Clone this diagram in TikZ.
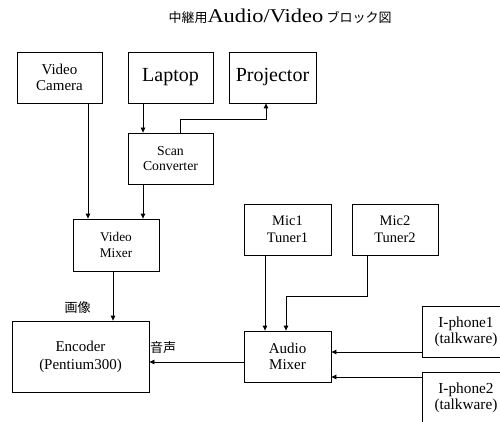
\documentclass[tikz,border=0pt]{standalone}
\usepackage{fontspec}
\usepackage{graphicx}
\setmainfont{Liberation Serif}
\newfontfamily\cjk{Noto Sans CJK JP}
\usetikzlibrary{arrows.meta}
\tikzset{
  blk/.style={draw, line width=0.8pt, align=center, inner sep=0pt},
  sig/.style={line width=0.8pt, -{Triangle[length=5pt,width=4.5pt]}},
  cjklbl/.style={font=\cjk\fontsize{13}{14}\selectfont, inner sep=0pt}
}
\begin{document}
\begin{tikzpicture}[x=1pt,y=-1pt]
  \useasboundingbox (0,0) rectangle (500,422);
  \clip (0,0) rectangle (500,422);
  % title
  \node[anchor=base, inner sep=0pt] (title) at (280,23) {\cjk\fontsize{13}{14}\selectfont 中継用\rmfamily\scalebox{1.15}[1]{\fontsize{19.5}{20}\selectfont Audio/Video} \cjk\fontsize{13}{14}\selectfont ブロック図};
  % video side
  \node[blk, minimum width=85, minimum height=51, font=\fontsize{15}{16.7}\selectfont] (cam) at (59.5,77.5) {Video\\Camera};
  \node[blk, minimum width=85, minimum height=51, font=\fontsize{20}{22}\selectfont] (lap) at (170.5,77.5) {Laptop};
  \node[blk, minimum width=87, minimum height=51, font=\fontsize{20}{22}\selectfont] (proj) at (272.5,77.5) {Projector};
  \node[blk, minimum width=85, minimum height=51, font=\fontsize{13.75}{14.5}\selectfont] (scan) at (170.5,158.5) {Scan\\Converter};
  \node[blk, minimum width=86, minimum height=52, font=\fontsize{13.3}{16}\selectfont] (vmix) at (116,245) {Video\\Mixer};
  \node[blk, minimum width=137, minimum height=71, font=\fontsize{15}{18}\selectfont] (enc) at (80.5,356.5) {Encoder\\(Pentium300)};
  % audio side
  \node[blk, minimum width=87, minimum height=51, font=\fontsize{14.5}{16.5}\selectfont] (mic1) at (287.5,229.5) {Mic1\\Tuner1};
  \node[blk, minimum width=86, minimum height=51, font=\fontsize{14.5}{16.5}\selectfont] (mic2) at (395,229.5) {Mic2\\Tuner2};
  \node[blk, minimum width=87, minimum height=51, font=\fontsize{15}{16.5}\selectfont] (amix) at (287.5,356.5) {Audio\\Mixer};
  \node[blk, minimum width=88, minimum height=51, font=\fontsize{15.3}{16}\selectfont] (ip1) at (466,331.5) {I-phone1\\(talkware)};
  \node[blk, minimum width=88, minimum height=51, font=\fontsize{15.3}{16}\selectfont] (ip2) at (466,397.5) {I-phone2\\(talkware)};
  % connectors
  \coordinate (p1) at (143,0);
  \draw[sig] (lap.south -| p1) -- (scan.north -| p1);
  \coordinate (p2) at (180,119);
  \coordinate (p3) at (266,119);
  \draw[sig] (scan.north -| p2) -- (p2) -- (p3) -- (proj.south -| p3);
  \coordinate (p4) at (88,0);
  \draw[sig] (cam.south -| p4) -- (vmix.north -| p4);
  \draw[sig] (scan.south -| p1) -- (vmix.north -| p1);
  \coordinate (p5) at (113,0);
  \draw[sig] (vmix.south -| p5) -- (enc.north -| p5);
  \coordinate (p6) at (265,0);
  \draw[sig] (mic1.south -| p6) -- (amix.north -| p6);
  \coordinate (p7) at (367,296);
  \coordinate (p8) at (286,296);
  \draw[sig] (mic2.south -| p7) -- (p7) -- (p8) -- (amix.north -| p8);
  \coordinate (p9) at (0,362);
  \draw[sig] (amix.west |- p9) -- (enc.east |- p9);
  \coordinate (p10) at (0,352);
  \draw[sig] (ip1.west |- p10) -- (amix.east |- p10);
  \coordinate (p11) at (0,377);
  \draw[sig] (ip2.west |- p11) -- (amix.east |- p11);
  % signal labels
  \node[cjklbl] (lblv) at (77.5,307.5) {画像};
  \node[cjklbl] (lbla) at (163,347.5) {音声};
\end{tikzpicture}
\end{document}
